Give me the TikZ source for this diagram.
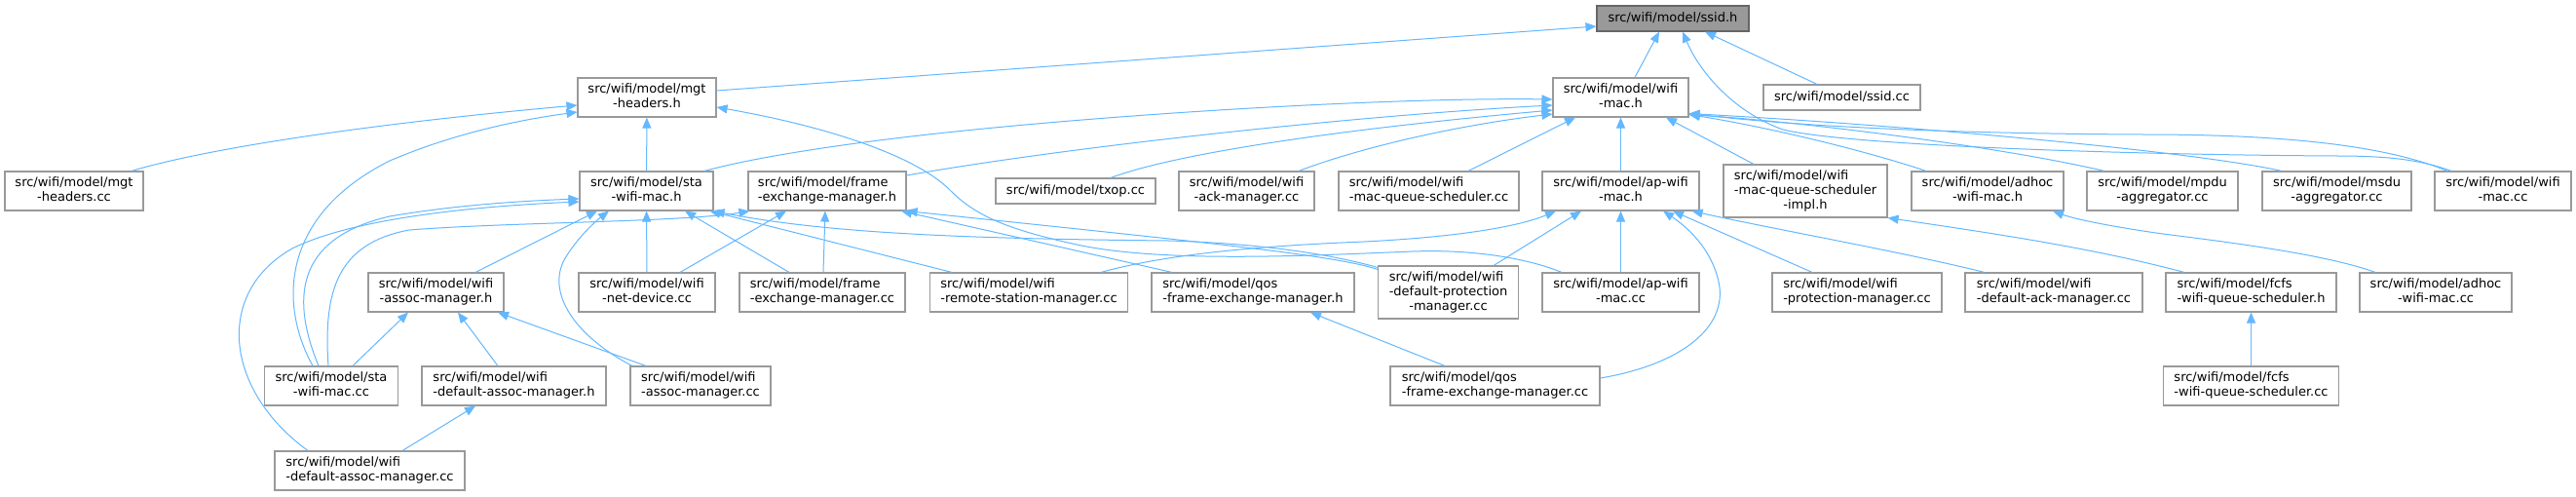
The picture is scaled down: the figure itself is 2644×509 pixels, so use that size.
\documentclass[tikz,border=0pt]{standalone}
\usepackage{fontspec}
\setmainfont{DejaVu Sans}
\usetikzlibrary{arrows.meta,calc}
\definecolor{edgeblue}{HTML}{63B8FF}
\definecolor{boxgray}{HTML}{999999}
\definecolor{rootfill}{HTML}{999999}
\definecolor{rootborder}{HTML}{666666}
\newcommand{\lone}[1]{\begin{tabular}{@{}c@{}}#1\end{tabular}}
\newcommand{\ltwo}[2]{\begin{tabular}{@{}l@{}}#1\\\multicolumn{1}{@{}c@{}}{#2}\end{tabular}}
\newcommand{\lthree}[3]{\begin{tabular}{@{}l@{}}#1\\#2\\\multicolumn{1}{@{}c@{}}{#3}\end{tabular}}
\tikzset{
  box/.style={draw=boxgray, line width=1.1pt, fill=white, inner sep=0pt, text=black,
    font=\fontsize{13pt}{15pt}\selectfont},
  rootbox/.style={box, draw=rootborder, fill=rootfill},
  sz/.style 2 args={minimum width=#1pt, minimum height=#2pt},
  edge/.style={draw=edgeblue, line width=1pt, -{Triangle[length=11pt,width=9pt]}},
}
\begin{document}
\begin{tikzpicture}[x=1pt,y=-1pt]
\fill[white] (0,0) rectangle (2644,509);
\useasboundingbox (0,0) rectangle (2644,509);
% nodes
\node[rootbox, sz={156}{26}] (ssidh) at (1717,19) {\lone{src/wifi/model/ssid.h}};
\node[box, sz={142}{40}] (mgth) at (664,100) {\ltwo{src/wifi/model/mgt}{-headers.h}};
\node[box, sz={139}{40}] (wifimach) at (1663.5,100) {\ltwo{src/wifi/model/wifi}{-mac.h}};
\node[box, sz={161}{26}] (ssidcc) at (1890.5,100) {\lone{src/wifi/model/ssid.cc}};
\node[box, sz={142}{40}] (mgtcc) at (76,196) {\ltwo{src/wifi/model/mgt}{-headers.cc}};
\node[box, sz={137}{40}] (stah) at (663.5,196) {\ltwo{src/wifi/model/sta}{-wifi-mac.h}};
\node[box, sz={162}{40}] (femh) at (849,196) {\ltwo{src/wifi/model/frame}{-exchange-manager.h}};
\node[box, sz={164}{26}] (txop) at (1104,196) {\lone{src/wifi/model/txop.cc}};
\node[box, sz={139}{40}] (ackmgr) at (1279.5,196) {\ltwo{src/wifi/model/wifi}{-ack-manager.cc}};
\node[box, sz={185}{40}] (mqschedcc) at (1466.5,196) {\ltwo{src/wifi/model/wifi}{-mac-queue-scheduler.cc}};
\node[box, sz={161}{40}] (aph) at (1663.5,196) {\ltwo{src/wifi/model/ap-wifi}{-mac.h}};
\node[box, sz={168}{54}] (mqimpl) at (1853,196) {\lthree{src/wifi/model/wifi}{-mac-queue-scheduler}{-impl.h}};
\node[box, sz={156}{40}] (adhoch) at (2040,196) {\ltwo{src/wifi/model/adhoc}{-wifi-mac.h}};
\node[box, sz={155}{40}] (mpdu) at (2219.5,196) {\ltwo{src/wifi/model/mpdu}{-aggregator.cc}};
\node[box, sz={153}{40}] (msdu) at (2398.5,196) {\ltwo{src/wifi/model/msdu}{-aggregator.cc}};
\node[box, sz={140}{40}] (wifimaccc) at (2569,196) {\ltwo{src/wifi/model/wifi}{-mac.cc}};
\node[box, sz={139}{40}] (assoch) at (447.5,300) {\ltwo{src/wifi/model/wifi}{-assoc-manager.h}};
\node[box, sz={140}{40}] (netdev) at (664,300) {\ltwo{src/wifi/model/wifi}{-net-device.cc}};
\node[box, sz={170}{40}] (femcc) at (844,300) {\ltwo{src/wifi/model/frame}{-exchange-manager.cc}};
\node[box, sz={203}{40}] (rsm) at (1056,300) {\ltwo{src/wifi/model/wifi}{-remote-station-manager.cc}};
\node[box, sz={208}{40}] (qosfemh) at (1286,300) {\ltwo{src/wifi/model/qos}{-frame-exchange-manager.h}};
\node[box, sz={144}{54}] (defprot) at (1486.5,300) {\lthree{src/wifi/model/wifi}{-default-protection}{-manager.cc}};
\node[box, sz={161}{40}] (apcc) at (1663.5,300) {\ltwo{src/wifi/model/ap-wifi}{-mac.cc}};
\node[box, sz={174}{40}] (protmgr) at (1906,300) {\ltwo{src/wifi/model/wifi}{-protection-manager.cc}};
\node[box, sz={182}{40}] (defack) at (2108,300) {\ltwo{src/wifi/model/wifi}{-default-ack-manager.cc}};
\node[box, sz={175}{40}] (fcfsh) at (2310.5,300) {\ltwo{src/wifi/model/fcfs}{-wifi-queue-scheduler.h}};
\node[box, sz={156}{40}] (adhoccc) at (2500,300) {\ltwo{src/wifi/model/adhoc}{-wifi-mac.cc}};
\node[box, sz={137}{40}] (stacc) at (340,396) {\ltwo{src/wifi/model/sta}{-wifi-mac.cc}};
\node[box, sz={189}{40}] (defassoch) at (527.5,396) {\ltwo{src/wifi/model/wifi}{-default-assoc-manager.h}};
\node[box, sz={144}{40}] (assoccc) at (719,396) {\ltwo{src/wifi/model/wifi}{-assoc-manager.cc}};
\node[box, sz={215}{40}] (qosfemcc) at (1534.5,396) {\ltwo{src/wifi/model/qos}{-frame-exchange-manager.cc}};
\node[box, sz={180}{40}] (fcfscc) at (2310.5,396) {\ltwo{src/wifi/model/fcfs}{-wifi-queue-scheduler.cc}};
\node[box, sz={195}{40}] (defassoccc) at (379.5,483) {\ltwo{src/wifi/model/wifi}{-default-assoc-manager.cc}};
% edges to ssid.h
\draw[edge] ([yshift=7pt]mgth.east) -- ([yshift=-8pt]ssidh.west);
\draw[edge] ([xshift=14.5pt]wifimach.north) -- ([xshift=-14pt]ssidh.south);
\draw[edge] ([xshift=-25.5pt]ssidcc.north) -- ([xshift=33pt]ssidh.south);
\draw[edge] ([xshift=-53pt]wifimaccc.north) .. controls (2490,166) and (2460,160) .. (2400,160) .. controls (2200,159) and (1900,150) .. (1830,133) .. controls (1780,115) and (1745,75) .. ([xshift=10pt]ssidh.south);
% edges to mgt-headers.h
\draw[edge] ([xshift=59pt]mgtcc.north) .. controls (220,150) and (400,125) .. ([yshift=-8pt]mgth.west);
\draw[edge] (stah) -- (mgth);
\draw[edge] ([xshift=-19pt]stacc.north) .. controls (285,310) and (290,220) .. (400,165) .. controls (470,135) and (540,122) .. ([yshift=-15pt]mgth.west);
\draw[edge] ([xshift=-60.5pt]apcc.north) .. controls (1560,262) and (1500,256) .. (1450,258) .. controls (1350,262) and (1200,270) .. (1110,252) .. controls (1030,235) and (1000,220) .. (975,195) .. controls (940,160) and (850,130) .. ([yshift=-10pt]mgth.east);
% edges to wifi-mac.h
\draw[edge] ([xshift=59.5pt]stah.north) .. controls (780,160) and (880,145) .. (1000,133) .. controls (1200,113) and (1450,100) .. ([yshift=-2pt]wifimach.west);
\draw[edge] ([yshift=16pt]femh.east) .. controls (1100,150) and (1400,118) .. ([yshift=-8pt]wifimach.west);
\draw[edge] ([xshift=36pt]txop.north) .. controls (1200,160) and (1350,135) .. ([yshift=-13pt]wifimach.west);
\draw[edge] ([xshift=53.5pt]ackmgr.north) .. controls (1400,150) and (1500,128) .. ([yshift=-17pt]wifimach.west);
\draw[edge] ([xshift=40.5pt]mqschedcc.north) -- ([xshift=-46.5pt]wifimach.south);
\draw[edge] (aph) -- (wifimach);
\draw[edge] ([xshift=-53pt]mqimpl.north) -- ([xshift=46.5pt]wifimach.south);
\draw[edge] ([xshift=-63pt]adhoch.north) .. controls (1900,150) and (1800,128) .. ([yshift=3pt]wifimach.south east);
\draw[edge] ([xshift=-59.5pt]mpdu.north) .. controls (2050,150) and (1850,125) .. ([yshift=3pt]wifimach.south east);
\draw[edge] ([xshift=-56.5pt]msdu.north) .. controls (2250,155) and (1950,128) .. ([yshift=4pt]wifimach.south east);
\draw[edge] ([xshift=-57pt]wifimaccc.north) .. controls (2450,150) and (2350,138) .. (2200,138) .. controls (2000,137) and (1850,130) .. ([yshift=4pt]wifimach.south east);
% edges to sta-wifi-mac.h
\draw[edge] ([xshift=-13pt]stacc.north) .. controls (300,310) and (300,245) .. (400,222) .. controls (470,210) and (540,206) .. ([yshift=-8pt]stah.west);
\draw[edge] ([xshift=-63.5pt]defassoccc.north) .. controls (230,400) and (220,300) .. (300,255) .. controls (360,225) and (480,212) .. ([yshift=-11pt]stah.west);
\draw[edge] ([xshift=40.5pt]assoch.north) -- ([xshift=-50.5pt]stah.south);
\draw[edge] ([xshift=-70pt]assoccc.north) .. controls (590,345) and (560,300) .. (580,265) .. controls (592,245) and (610,228) .. ([xshift=-38.5pt]stah.south);
\draw[edge] (netdev) -- (stah);
\draw[edge] ([xshift=-34pt]femcc.north) -- ([xshift=39.5pt]stah.south);
\draw[edge] ([xshift=-79pt]rsm.north) -- ([xshift=-4pt]stah.south east);
\draw[edge] ([yshift=-2pt]defprot.north west) .. controls (1370,262) and (1300,250) .. (1200,247) .. controls (1000,245) and (850,240) .. (stah.south east);
% edges to frame-exchange-manager.h
\draw[edge] ([xshift=-3pt]stacc.north) .. controls (332,300) and (345,250) .. (420,236) .. controls (520,228) and (700,228) .. ([xshift=2pt]femh.south west);
\draw[edge] ([xshift=34pt]netdev.north) -- ([xshift=-42pt]femh.south);
\draw[edge] ([xshift=1pt]femcc.north) -- ([xshift=-2pt]femh.south);
\draw[edge] ([xshift=-83pt]qosfemh.north) -- ([xshift=76pt]femh.south);
\draw[edge] ([yshift=-4pt]defprot.north west) .. controls (1370,262) and (1250,250) .. (femh.south east);
% edges to ap-wifi-mac.h
\draw[edge] ([xshift=74pt]rsm.north) .. controls (1200,260) and (1300,252) .. (1400,248) .. controls (1500,243) and (1560,232) .. ([xshift=-66.5pt]aph.south);
\draw[edge] ([xshift=46.5pt]defprot.north) -- ([xshift=-40.5pt]aph.south);
\draw[edge] (apcc) -- (aph);
\draw[edge] ([yshift=8pt]qosfemcc.east) .. controls (1720,375) and (1770,340) .. (1765,295) .. controls (1760,260) and (1735,235) .. ([xshift=43.5pt]aph.south);
\draw[edge] ([xshift=-46pt]protmgr.north) -- ([xshift=53.5pt]aph.south);
\draw[edge] ([xshift=-71pt]defack.north) .. controls (1950,258) and (1820,235) .. ([xshift=-8pt]aph.south east);
% assoc manager
\draw[edge] ([xshift=22pt]stacc.north) -- ([xshift=-28.5pt]assoch.south);
\draw[edge] ([xshift=-16.5pt]defassoch.north) -- ([xshift=22.5pt]assoch.south);
\draw[edge] ([xshift=-56pt]assoccc.north) -- ([xshift=63.5pt]assoch.south);
\draw[edge] ([xshift=33.5pt]defassoccc.north) -- ([xshift=-39.5pt]defassoch.south);
% others
\draw[edge] ([xshift=-51.5pt]qosfemcc.north) -- ([xshift=59pt]qosfemh.south);
\draw[edge] ([xshift=-68.5pt]fcfsh.north) .. controls (2150,255) and (2050,240) .. (mqimpl.south east);
\draw[edge] ([xshift=-62pt]adhoccc.north) .. controls (2390,262) and (2300,250) .. (2220,240) .. controls (2170,233) and (2130,225) .. ([xshift=67pt]adhoch.south);
\draw[edge] (fcfscc) -- (fcfsh);
\end{tikzpicture}
\end{document}
